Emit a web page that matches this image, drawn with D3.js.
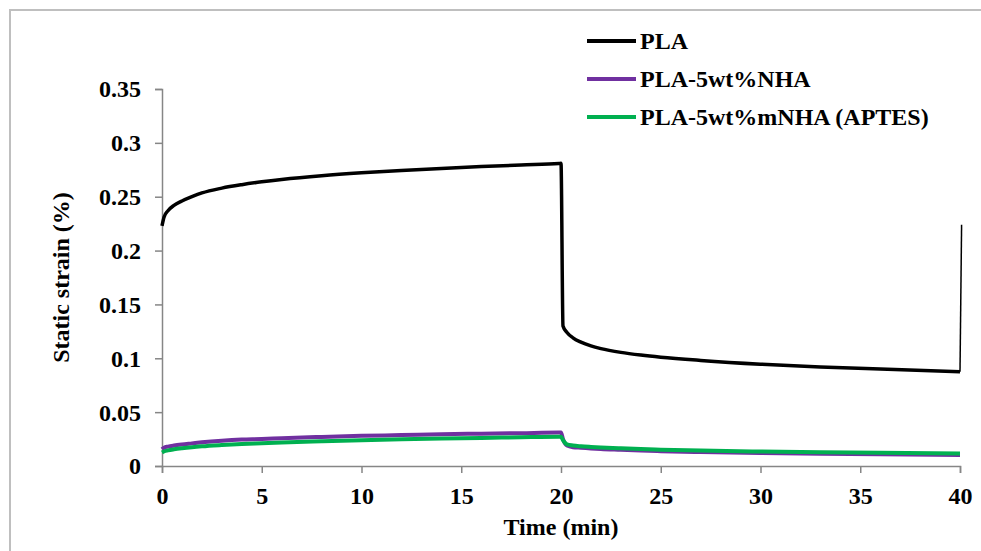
<!DOCTYPE html>
<html>
<head>
<meta charset="utf-8">
<script src="https://cdn.jsdelivr.net/npm/d3@7"></script>
<style>
  body { margin: 0; background: #fff; }
  svg { display: block; font-family: "Liberation Serif", "Times New Roman", serif; font-weight: bold; }
</style>
</head>
<body>
<svg id="chart" width="981" height="551"></svg>
<script>
// --- data
const time = [0, 0.1, 0.3, 0.6, 1, 1.5, 2, 3, 4, 5, 6, 8, 10, 12, 14, 16, 18, 19.9, 20,
  20.1, 20.3, 20.6, 21, 21.5, 22, 23, 24, 25, 27, 30, 33, 36, 40];

const pla = [0.223, 0.231, 0.237, 0.242, 0.246, 0.250, 0.2535, 0.258, 0.2612, 0.2638, 0.266, 0.2695,
  0.2722, 0.2744, 0.2763, 0.278, 0.2795, 0.2808, 0.281,
  0.130, 0.124, 0.119, 0.115, 0.1115, 0.109, 0.1055, 0.103, 0.101, 0.098, 0.0945, 0.092, 0.090, 0.0875];

const plaNha = [0.0155, 0.017, 0.018, 0.019, 0.020, 0.021, 0.022, 0.0235, 0.0245, 0.025, 0.0258, 0.027,
  0.028, 0.0287, 0.0295, 0.030, 0.0305, 0.031, 0.031,
  0.025, 0.019, 0.0175, 0.017, 0.0163, 0.0157, 0.015, 0.0143, 0.0138, 0.013, 0.012, 0.0113, 0.0108, 0.0103];

const plaMnha = [0.0125, 0.0135, 0.0145, 0.0155, 0.0165, 0.0175, 0.0183, 0.0195, 0.0205, 0.0212, 0.0219, 0.023,
  0.024, 0.0248, 0.0255, 0.026, 0.0267, 0.0272, 0.0272,
  0.024, 0.020, 0.019, 0.0183, 0.0177, 0.0172, 0.0164, 0.0157, 0.0152, 0.0143, 0.0134, 0.0127, 0.0122, 0.0117];

// the PLA trace ends with a jump back up at the very end
const plaTailTime = [40.08];
const plaTail = [0.224];

const xTicks = [0, 5, 10, 15, 20, 25, 30, 35, 40];
const yTicks = [0, 0.05, 0.1, 0.15, 0.2, 0.25, 0.3, 0.35];

const seriesNames = ['PLA', 'PLA-5wt%NHA', 'PLA-5wt%mNHA (APTES)'];
const seriesColors = ['#000000', '#7030a0', '#00b050'];

// --- layout
const svg = d3.select('#chart');
const margin = { left: 162, top: 89, right: 21, bottom: 85 };
const W = 981, H = 551;
const fontSize = '24px';

const x = d3.scaleLinear().domain([0, 40]).range([margin.left, W - margin.right]);
const y = d3.scaleLinear().domain([0, 0.35]).range([H - margin.bottom, margin.top]);

// outer frame (only top/left visible)
svg.append('rect')
  .attr('x', 10).attr('y', 10)
  .attr('width', W + 20).attr('height', H + 20)
  .attr('fill', 'none')
  .attr('stroke', '#bfbfbf')
  .attr('stroke-width', 2);

// axes
const axisColor = '#868686';

const yAxis = svg.append('g')
  .attr('transform', `translate(${margin.left},0)`)
  .call(d3.axisLeft(y).tickValues(yTicks).tickSize(7).tickPadding(14)
    .tickFormat(d => d === 0 ? '0' : String(+d.toFixed(2))));

const xAxis = svg.append('g')
  .attr('transform', `translate(0,${y(0)})`)
  .call(d3.axisBottom(x).tickValues(xTicks).tickSize(7).tickPadding(14).tickFormat(d3.format('d')));

[xAxis, yAxis].forEach(g => {
  g.select('.domain').attr('stroke', axisColor).attr('stroke-width', 1.5);
  g.selectAll('.tick line').attr('stroke', axisColor).attr('stroke-width', 1.5);
  g.selectAll('.tick text')
    .attr('fill', '#000')
    .style('font-size', fontSize)
    .style('font-family', '"Liberation Serif", serif')
    .style('font-weight', 'bold');
});
yAxis.selectAll('.tick text').attr('dy', '0.33em');

// axis titles
svg.append('text')
  .attr('x', (x(0) + x(40)) / 2)
  .attr('y', 535)
  .attr('text-anchor', 'middle')
  .style('font-size', fontSize)
  .text('Time (min)');

svg.append('text')
  .attr('transform', `translate(69,${(y(0) + y(0.35)) / 2}) rotate(-90)`)
  .attr('text-anchor', 'middle')
  .style('font-size', fontSize)
  .text('Static strain (%)');

// lines
const line = d3.line()
  .x(d => x(d[0]))
  .y(d => y(d[1]))
  .curve(d3.curveMonotoneX);

const series = [
  d3.zip(time, pla).concat(d3.zip(plaTailTime, plaTail)),
  d3.zip(time, plaNha),
  d3.zip(time, plaMnha)
];

const widths = [3.5, 4, 4];

// draw colored ones first, green on top of purple, black last
[1, 2, 0].forEach(i => {
  const pts = series[i];
  if (i === 0) {
    // last jump is a straight segment
    svg.append('path')
      .attr('d', line(pts.slice(0, pts.length - 1)))
      .attr('fill', 'none')
      .attr('stroke', seriesColors[i])
      .attr('stroke-width', widths[i]);
    svg.append('path')
      .attr('d', d3.line().x(d => x(d[0])).y(d => y(d[1]))(pts.slice(pts.length - 2)))
      .attr('fill', 'none')
      .attr('stroke', seriesColors[i])
      .attr('stroke-width', 1.5);
  } else {
    svg.append('path')
      .attr('d', line(pts))
      .attr('fill', 'none')
      .attr('stroke', seriesColors[i])
      .attr('stroke-width', widths[i]);
  }
});

// legend
const legend = svg.append('g').attr('transform', 'translate(587,41)');
seriesNames.forEach((name, i) => {
  const g = legend.append('g').attr('transform', `translate(0,${i * 38})`);
  g.append('line')
    .attr('x1', 0).attr('x2', 49)
    .attr('stroke', seriesColors[i])
    .attr('stroke-width', 4);
  g.append('text')
    .attr('x', 53)
    .attr('dy', '0.35em')
    .style('font-size', fontSize)
    .text(name);
});
</script>
</body>
</html>
